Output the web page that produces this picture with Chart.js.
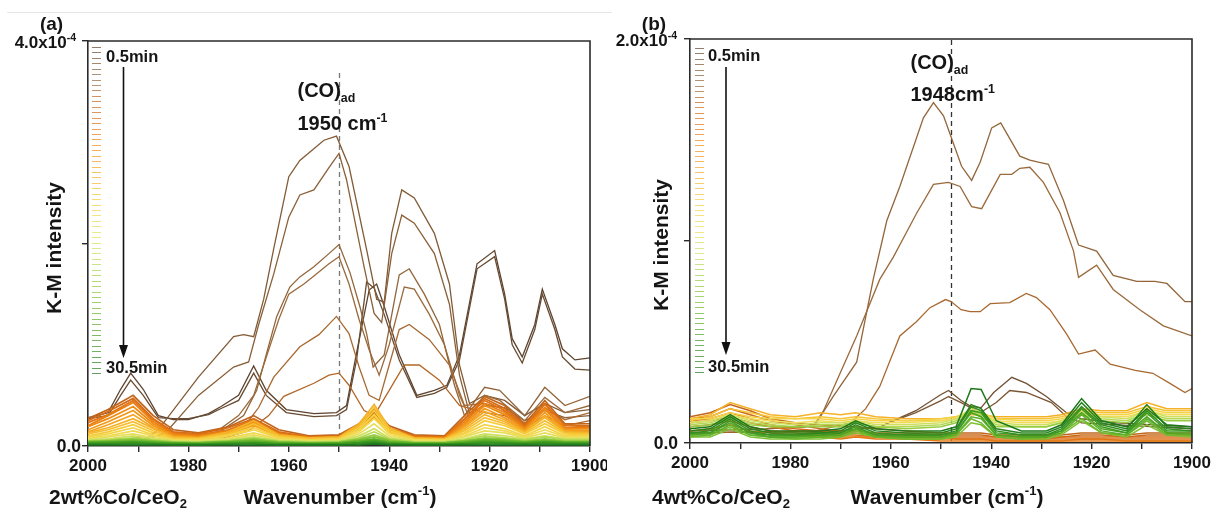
<!DOCTYPE html>
<html><head><meta charset="utf-8">
<script src="https://cdn.jsdelivr.net/npm/chart.js@4.4.1/dist/chart.umd.min.js"></script>
<style>
html,body{margin:0;padding:0;background:#fff;}
body{width:1214px;height:513px;position:relative;overflow:hidden;}
canvas{position:absolute;top:0;}
#ca{left:0;} #cb{left:607px;}
</style></head><body>
<canvas id="ca" width="607" height="513"></canvas>
<canvas id="cb" width="607" height="513"></canvas>
<script>
// ---------- DATA (K-M intensity in units of 1e-4) ----------
const X_TICKS = [2000, 1980, 1960, 1940, 1920, 1900];
const TIME_LABELS = ['0.5min', '30.5min'];
const N_SPECTRA = 61;

// Panel (a) 2wt%Co/CeO2 - large (brown) spectra as [wavenumber, value]
const A_D1 = [[2000,0.28],[1996,0.33],[1993.5,0.56],[1991.5,0.72],[1989,0.56],[1986,0.3],[1983,0.26],[1980,0.26],[1976,0.32],[1973.5,0.39],[1970,0.5],[1967,0.79],[1964.5,0.55],[1960.5,0.36],[1955,0.32],[1950.5,0.33],[1948.5,0.4],[1946.5,0.92],[1944,1.54],[1942.5,1.6],[1941,1.38],[1938,0.9],[1934.5,0.5],[1931,0.55],[1928.5,0.6],[1926,0.9],[1922.5,1.8],[1919,1.93],[1917,1.5],[1915.5,1.06],[1913.5,0.88],[1911,1.2],[1909.5,1.55],[1907,1.2],[1905.5,0.96],[1903,0.85],[1900,0.87]];
const A_D2 = [[2000,0.27],[1996,0.3],[1993.5,0.5],[1991.5,0.65],[1989,0.5],[1986,0.28],[1983,0.27],[1980,0.27],[1976,0.31],[1973.5,0.37],[1970,0.45],[1967,0.72],[1964.5,0.5],[1960.5,0.33],[1955,0.29],[1950.5,0.3],[1948.5,0.36],[1946.5,0.85],[1944.5,1.62],[1943,1.56],[1941,1.3],[1938,0.85],[1934.5,0.48],[1931,0.52],[1928.5,0.58],[1926,0.85],[1922.5,1.75],[1919,1.87],[1917,1.45],[1915.5,1.0],[1913.5,0.82],[1911,1.15],[1909.5,1.5],[1907,1.15],[1905.5,0.88],[1903,0.76],[1900,0.75]];
const A_P1 = [[2000,0.06],[1992,0.07],[1988,0.09],[1986,0.16],[1978,0.68],[1971,1.08],[1969,1.1],[1967,1.08],[1965,1.45],[1963,1.95],[1960,2.66],[1957.8,2.82],[1953,3.02],[1950.5,3.06],[1948,2.76],[1944.5,1.94],[1942.5,1.45],[1941,1.42],[1939.5,2.1],[1937.5,2.53],[1935,2.45],[1931,2.1],[1928,1.6],[1926,0.8],[1924,0.42],[1921,0.5],[1917,0.45],[1913,0.3],[1909,0.42],[1905,0.33],[1900,0.36]];
const A_P2 = [[2000,0.05],[1990,0.06],[1986,0.1],[1984,0.16],[1978,0.5],[1971,0.78],[1968,0.83],[1966,1.2],[1963,1.7],[1960,2.26],[1957.8,2.48],[1955,2.53],[1952,2.75],[1950,2.89],[1948.5,2.63],[1945,1.77],[1943,1.31],[1941.5,1.22],[1939.5,1.9],[1937.5,2.28],[1935,2.2],[1931,1.9],[1928,1.4],[1926,0.7],[1924,0.32],[1921,0.4],[1917,0.38],[1913,0.25],[1909,0.35],[1905,0.28],[1900,0.3]];
const A_P3 = [[2000,0.04],[1985,0.05],[1975,0.1],[1969,0.3],[1966.4,0.55],[1964.4,0.92],[1962.4,1.28],[1959.8,1.57],[1957.8,1.67],[1955,1.77],[1952,1.9],[1950,1.99],[1947.8,1.71],[1945.8,1.37],[1944.5,1.11],[1943.2,0.78],[1941,0.9],[1938,1.69],[1936,1.75],[1933,1.5],[1930,1.2],[1927,0.6],[1925,0.3],[1921,0.58],[1918,0.55],[1913,0.3],[1909,0.58],[1905,0.4],[1900,0.49]];
const A_P4 = [[2000,0.04],[1985,0.05],[1975,0.12],[1970,0.3],[1967,0.5],[1964,0.95],[1962,1.25],[1960,1.5],[1957,1.6],[1955,1.68],[1952,1.8],[1950,1.87],[1948,1.6],[1946,1.25],[1944,0.95],[1942,0.7],[1940,1.0],[1937,1.57],[1935,1.55],[1932,1.3],[1929,1.0],[1926,0.5],[1924,0.28],[1921,0.5],[1918,0.45],[1913,0.25],[1909,0.48],[1905,0.33],[1900,0.4]];
const A_P5 = [[2000,0.04],[1980,0.05],[1972,0.1],[1968,0.25],[1966,0.38],[1963,0.68],[1957.8,0.98],[1954,1.1],[1950.5,1.28],[1948,1.11],[1946,0.78],[1944,0.5],[1942,0.45],[1940,0.8],[1938,1.15],[1936,1.2],[1932,1.05],[1928,0.8],[1925,0.4],[1921,0.42],[1918,0.38],[1913,0.2],[1909,0.38],[1905,0.26],[1900,0.33]];
const A_P6 = [[2000,0.04],[1975,0.05],[1968,0.15],[1964,0.3],[1961,0.49],[1955,0.62],[1952,0.7],[1950,0.72],[1948,0.6],[1945,0.35],[1943,0.3],[1940,0.55],[1937,0.8],[1934,0.8],[1930,0.65],[1926,0.4],[1921,0.33],[1917,0.3],[1913,0.18],[1909,0.3],[1905,0.2],[1900,0.25]];

// Panel (a) small spectra on a shared wavenumber list
const A_LOW_X = [2000,1996,1991,1987,1983,1978,1972,1967,1962,1956,1950,1946,1943,1940,1935,1929,1925,1921,1917,1913,1909,1905,1900];
const A_O1 = [0.27,0.36,0.50,0.30,0.16,0.13,0.19,0.30,0.16,0.10,0.11,0.22,0.36,0.20,0.11,0.10,0.30,0.49,0.40,0.22,0.45,0.22,0.22];
const A_O2 = [0.25,0.34,0.47,0.27,0.14,0.12,0.18,0.27,0.14,0.09,0.10,0.21,0.33,0.18,0.10,0.09,0.27,0.47,0.37,0.21,0.42,0.21,0.20];
const A_O3 = [0.23,0.31,0.45,0.26,0.13,0.11,0.16,0.26,0.13,0.09,0.09,0.19,0.32,0.17,0.09,0.09,0.26,0.45,0.35,0.19,0.41,0.20,0.19];
const A_O4 = [0.20,0.30,0.43,0.24,0.12,0.10,0.15,0.24,0.12,0.08,0.09,0.18,0.30,0.16,0.09,0.08,0.24,0.42,0.33,0.18,0.38,0.18,0.18];
const A_O5 = [0.19,0.27,0.39,0.22,0.11,0.09,0.14,0.23,0.11,0.08,0.08,0.17,0.29,0.15,0.08,0.08,0.22,0.40,0.31,0.17,0.36,0.17,0.17];
const A_O6 = [0.16,0.24,0.35,0.20,0.10,0.09,0.13,0.21,0.10,0.07,0.08,0.16,0.28,0.14,0.08,0.07,0.20,0.37,0.28,0.16,0.33,0.16,0.15];
const A_O7 = [0.14,0.21,0.31,0.18,0.09,0.08,0.12,0.20,0.10,0.07,0.07,0.17,0.30,0.13,0.07,0.07,0.19,0.34,0.26,0.15,0.30,0.15,0.14];
const A_Y1 = [0.13,0.18,0.27,0.17,0.09,0.08,0.14,0.25,0.11,0.08,0.09,0.22,0.41,0.18,0.08,0.07,0.17,0.31,0.24,0.14,0.28,0.14,0.13];
const A_Y2 = [0.12,0.16,0.24,0.15,0.08,0.07,0.12,0.22,0.10,0.07,0.08,0.20,0.38,0.17,0.07,0.07,0.15,0.28,0.22,0.13,0.25,0.13,0.12];
const A_Y3 = [0.10,0.14,0.21,0.13,0.07,0.07,0.11,0.18,0.09,0.06,0.07,0.18,0.35,0.15,0.07,0.06,0.13,0.25,0.20,0.12,0.22,0.12,0.11];
const A_Y4 = [0.09,0.12,0.18,0.11,0.06,0.06,0.10,0.16,0.08,0.06,0.07,0.16,0.31,0.13,0.06,0.06,0.12,0.21,0.17,0.10,0.19,0.10,0.10];
const A_Y5 = [0.08,0.10,0.15,0.10,0.06,0.05,0.08,0.13,0.07,0.05,0.06,0.14,0.27,0.12,0.06,0.05,0.10,0.18,0.15,0.09,0.16,0.09,0.09];
const A_Y6 = [0.07,0.09,0.12,0.08,0.05,0.05,0.07,0.11,0.06,0.05,0.05,0.12,0.22,0.10,0.05,0.05,0.09,0.15,0.13,0.08,0.13,0.08,0.08];
const A_YG1 = [0.06,0.07,0.10,0.07,0.05,0.04,0.06,0.09,0.05,0.04,0.05,0.10,0.17,0.08,0.04,0.04,0.07,0.12,0.10,0.07,0.10,0.07,0.07];
const A_YG2 = [0.05,0.06,0.08,0.06,0.04,0.04,0.05,0.08,0.05,0.04,0.04,0.08,0.14,0.07,0.04,0.04,0.06,0.10,0.08,0.06,0.09,0.06,0.06];
const A_YG3 = [0.05,0.05,0.07,0.05,0.04,0.03,0.05,0.07,0.04,0.03,0.04,0.07,0.11,0.06,0.03,0.03,0.05,0.08,0.07,0.05,0.07,0.05,0.05];
const A_YG4 = [0.04,0.05,0.06,0.05,0.03,0.03,0.04,0.06,0.04,0.03,0.03,0.06,0.09,0.05,0.03,0.03,0.05,0.07,0.06,0.04,0.06,0.04,0.04];
const A_G1 = [0.04,0.04,0.05,0.04,0.03,0.03,0.04,0.05,0.03,0.03,0.03,0.05,0.07,0.04,0.03,0.03,0.04,0.06,0.05,0.04,0.05,0.04,0.04];
const A_G2 = [0.03,0.04,0.04,0.03,0.03,0.02,0.03,0.04,0.03,0.02,0.03,0.04,0.06,0.03,0.02,0.02,0.03,0.05,0.04,0.03,0.04,0.03,0.03];
const A_G3 = [0.03,0.03,0.04,0.03,0.02,0.02,0.03,0.03,0.02,0.02,0.02,0.03,0.05,0.03,0.02,0.02,0.03,0.04,0.03,0.03,0.04,0.03,0.03];
const A_G4 = [0.02,0.02,0.03,0.02,0.02,0.02,0.02,0.03,0.02,0.02,0.02,0.03,0.04,0.02,0.02,0.02,0.02,0.03,0.03,0.02,0.03,0.02,0.02];
const A_G5 = [0.02,0.02,0.02,0.02,0.01,0.01,0.02,0.02,0.01,0.01,0.01,0.02,0.03,0.02,0.01,0.01,0.02,0.02,0.02,0.02,0.02,0.02,0.02];
const A_G6 = [0.01,0.01,0.01,0.01,0.01,0.01,0.01,0.01,0.01,0.01,0.01,0.01,0.02,0.01,0.01,0.01,0.01,0.01,0.01,0.01,0.01,0.01,0.01];

// Panel (b) 4wt%Co/CeO2 - large (brown) spectra
const B_B1 = [[2000,0.06],[1985,0.07],[1977,0.08],[1974.8,0.1],[1971.5,0.23],[1966.8,0.40],[1963.5,0.81],[1960.8,1.10],[1958.2,1.27],[1953.5,1.61],[1951.5,1.685],[1949.5,1.62],[1948.2,1.53],[1945.9,1.37],[1943.9,1.30],[1942.2,1.39],[1939.9,1.56],[1938.1,1.585],[1934.3,1.42],[1932.3,1.40],[1930.6,1.39],[1928.6,1.38],[1925.6,1.2],[1922.6,0.98],[1919,0.95],[1915.7,0.83],[1911,0.80],[1907.4,0.80],[1905,0.79],[1901.4,0.70],[1900,0.70]];
const B_B2 = [[2000,0.06],[1985,0.07],[1977,0.08],[1975,0.1],[1973.4,0.16],[1970.1,0.345],[1966.8,0.53],[1962.2,0.81],[1959.5,0.92],[1954.8,1.14],[1951.5,1.28],[1948.5,1.29],[1946.2,1.27],[1943.9,1.17],[1941.9,1.16],[1938.2,1.33],[1935.9,1.33],[1934.3,1.36],[1932.3,1.365],[1929.6,1.29],[1926.3,1.14],[1923.6,0.95],[1922.6,0.82],[1919,0.88],[1915.7,0.76],[1910.4,0.66],[1905.7,0.58],[1900,0.53]];
const B_B3 = [[2000,0.05],[1975,0.06],[1968,0.1],[1965,0.17],[1962.2,0.28],[1958.2,0.53],[1954.9,0.60],[1952.2,0.67],[1949.1,0.71],[1948,0.70],[1946,0.66],[1944.2,0.65],[1942.2,0.65],[1940.2,0.69],[1936.3,0.695],[1933,0.74],[1931,0.72],[1928.3,0.66],[1925,0.54],[1922.6,0.44],[1919.3,0.46],[1916.3,0.39],[1911.3,0.36],[1907.8,0.345],[1904.4,0.295],[1901.4,0.25],[1900,0.27]];
const B_B4 = [[2000,0.05],[1970,0.06],[1962,0.08],[1960.5,0.1],[1955,0.16],[1950,0.24],[1948.5,0.26],[1946,0.21],[1944,0.18],[1942,0.175],[1939.5,0.25],[1935.9,0.325],[1933,0.295],[1929,0.23],[1925,0.15],[1922,0.12],[1915,0.1],[1900,0.08]];
const B_B5 = [[2000,0.05],[1970,0.06],[1962,0.08],[1960.5,0.1],[1955,0.15],[1950,0.21],[1948.5,0.23],[1946,0.2],[1942.2,0.15],[1939,0.2],[1936.3,0.26],[1933,0.25],[1928,0.2],[1925,0.13],[1922,0.1],[1900,0.07]];

// Panel (b) small spectra on a shared wavenumber list
const B_LOW_X = [2000,1996,1992,1988,1984,1979,1974,1970,1967,1963,1957,1950,1947,1944,1942,1939,1934,1929,1926,1922,1918,1913,1909,1905,1900];
const B_O1 = [0.13,0.15,0.19,0.16,0.12,0.10,0.09,0.08,0.08,0.07,0.06,0.05,0.05,0.05,0.05,0.04,0.04,0.04,0.04,0.05,0.05,0.04,0.05,0.05,0.05];
const B_O2 = [0.12,0.13,0.17,0.14,0.11,0.09,0.07,0.06,0.06,0.05,0.05,0.04,0.04,0.04,0.04,0.03,0.03,0.03,0.03,0.04,0.04,0.03,0.04,0.04,0.04];
const B_O3 = [0.11,0.12,0.15,0.12,0.09,0.07,0.06,0.05,0.05,0.04,0.04,0.03,0.03,0.03,0.03,0.03,0.02,0.02,0.03,0.03,0.03,0.03,0.03,0.03,0.03];
const B_O4 = [0.10,0.11,0.13,0.10,0.08,0.06,0.05,0.04,0.04,0.03,0.03,0.03,0.02,0.02,0.02,0.02,0.02,0.02,0.02,0.02,0.02,0.02,0.02,0.02,0.02];
const B_O5 = [0.08,0.09,0.11,0.08,0.06,0.05,0.04,0.03,0.03,0.03,0.02,0.02,0.02,0.02,0.02,0.01,0.01,0.01,0.01,0.02,0.02,0.01,0.01,0.01,0.01];
const B_O6 = [0.06,0.07,0.09,0.06,0.05,0.04,0.03,0.02,0.03,0.02,0.02,0.01,0.01,0.01,0.01,0.01,0.01,0.01,0.01,0.01,0.01,0.01,0.01,0.01,0.01];
const B_Y1 = [0.12,0.14,0.20,0.17,0.14,0.13,0.15,0.14,0.15,0.13,0.12,0.12,0.13,0.14,0.14,0.13,0.13,0.13,0.14,0.17,0.16,0.16,0.20,0.17,0.17];
const B_Y2 = [0.11,0.13,0.17,0.15,0.13,0.12,0.13,0.12,0.13,0.12,0.11,0.11,0.12,0.15,0.15,0.12,0.12,0.12,0.13,0.16,0.15,0.15,0.18,0.16,0.16];
const B_Y3 = [0.12,0.12,0.15,0.13,0.12,0.12,0.12,0.11,0.12,0.11,0.11,0.12,0.13,0.16,0.15,0.12,0.11,0.11,0.12,0.15,0.14,0.14,0.17,0.15,0.15];
const B_Y4 = [0.10,0.11,0.14,0.12,0.11,0.10,0.11,0.10,0.11,0.10,0.10,0.11,0.12,0.16,0.14,0.11,0.10,0.10,0.11,0.14,0.13,0.13,0.16,0.14,0.14];
const B_YG1 = [0.10,0.11,0.14,0.11,0.10,0.09,0.10,0.10,0.11,0.09,0.09,0.10,0.12,0.17,0.15,0.10,0.09,0.09,0.11,0.16,0.13,0.12,0.16,0.13,0.13];
const B_YG2 = [0.09,0.10,0.13,0.10,0.09,0.08,0.09,0.09,0.10,0.08,0.08,0.09,0.11,0.16,0.14,0.09,0.08,0.08,0.10,0.15,0.12,0.11,0.15,0.12,0.12];
const B_YG3 = [0.08,0.09,0.12,0.09,0.08,0.08,0.08,0.08,0.10,0.08,0.07,0.08,0.10,0.15,0.13,0.08,0.08,0.08,0.10,0.14,0.11,0.10,0.14,0.11,0.11];
const B_G1 = [0.07,0.08,0.14,0.08,0.06,0.06,0.06,0.07,0.11,0.07,0.06,0.06,0.08,0.27,0.265,0.11,0.06,0.06,0.09,0.22,0.11,0.08,0.17,0.09,0.08];
const B_G2 = [0.06,0.07,0.13,0.07,0.05,0.05,0.05,0.06,0.10,0.06,0.05,0.05,0.07,0.19,0.17,0.07,0.05,0.05,0.08,0.20,0.10,0.07,0.19,0.08,0.07];
const B_G3 = [0.05,0.06,0.12,0.06,0.04,0.04,0.05,0.05,0.09,0.05,0.04,0.04,0.06,0.18,0.16,0.06,0.04,0.04,0.07,0.18,0.09,0.06,0.16,0.07,0.06];
const B_G4 = [0.05,0.05,0.11,0.05,0.04,0.04,0.04,0.05,0.08,0.04,0.04,0.04,0.05,0.16,0.15,0.05,0.04,0.04,0.06,0.17,0.08,0.05,0.15,0.06,0.06];
const B_G5 = [0.04,0.05,0.10,0.05,0.03,0.03,0.04,0.04,0.07,0.04,0.03,0.03,0.05,0.15,0.13,0.04,0.03,0.03,0.06,0.15,0.07,0.05,0.13,0.05,0.05];
const B_G6 = [0.04,0.04,0.09,0.04,0.03,0.03,0.03,0.04,0.07,0.03,0.03,0.03,0.04,0.13,0.12,0.04,0.03,0.03,0.05,0.14,0.06,0.04,0.12,0.05,0.04];
const B_G7 = [0.03,0.04,0.08,0.04,0.03,0.02,0.03,0.03,0.06,0.03,0.02,0.02,0.04,0.12,0.10,0.03,0.02,0.03,0.05,0.12,0.05,0.04,0.11,0.04,0.04];
const B_G8 = [0.03,0.03,0.07,0.03,0.02,0.02,0.02,0.03,0.05,0.03,0.02,0.02,0.03,0.10,0.09,0.03,0.02,0.02,0.04,0.11,0.05,0.03,0.09,0.04,0.03];

// ---------- STYLE ----------
const FF = '"Liberation Sans", Arial, Helvetica, sans-serif';
const COLOR_STOPS = [[0,'#5e4430'],[3,'#7a5634'],[7,'#9a6a3c'],[10,'#c0661c'],[13,'#dc6e14'],[18,'#f08a12'],[23,'#f5aa22'],[28,'#f6cc3a'],[33,'#f0de58'],[38,'#c8e060'],[43,'#96cc40'],[48,'#6cb82c'],[54,'#3e9a22'],[60,'#1c781a']];
function hex2rgb(h){return [parseInt(h.substr(1,2),16),parseInt(h.substr(3,2),16),parseInt(h.substr(5,2),16)];}
function spectrumColor(i){
  for(let k=0;k<COLOR_STOPS.length-1;k++){
    const [i0,c0]=COLOR_STOPS[k],[i1,c1]=COLOR_STOPS[k+1];
    if(i>=i0&&i<=i1){const t=(i-i0)/(i1-i0),a=hex2rgb(c0),b=hex2rgb(c1);
      return 'rgb('+a.map((v,j)=>Math.round(v+(b[j]-v)*t)).join(',')+')';}
  }
  return COLOR_STOPS[COLOR_STOPS.length-1][1];
}
function fromPairs(p){return p.map(([x,y])=>({x,y}));}
function fromGrid(xs,ys){return xs.map((x,i)=>({x,y:ys[i]}));}
function ds(data,ci,w){return {data,borderColor:spectrumColor(ci),borderWidth:w,pointRadius:0,order:-ci,fill:false};}

const dsA = [
  ds(fromPairs(A_D1),0,1.3), ds(fromPairs(A_D2),1,1.3), ds(fromPairs(A_P1),4,1.3), ds(fromPairs(A_P2),5,1.3),
  ds(fromPairs(A_P3),6,1.3), ds(fromPairs(A_P4),7,1.3), ds(fromPairs(A_P5),8,1.3), ds(fromPairs(A_P6),9,1.3)
];
[[A_O1,10],[A_O2,12],[A_O3,14],[A_O4,16],[A_O5,18],[A_O6,20],[A_O7,22],[A_Y1,24],[A_Y2,26],[A_Y3,28],[A_Y4,30],[A_Y5,32],[A_Y6,34],
 [A_YG1,37],[A_YG2,40],[A_YG3,43],[A_YG4,46],[A_G1,49],[A_G2,51],[A_G3,53],[A_G4,55],[A_G5,57],[A_G6,60]]
 .forEach(([v,c])=>dsA.push(ds(fromGrid(A_LOW_X,v),c,1.7)));

const dsB = [
  ds(fromPairs(B_B1),6,1.3), ds(fromPairs(B_B2),7,1.3), ds(fromPairs(B_B3),8,1.3), ds(fromPairs(B_B4),2,1.3), ds(fromPairs(B_B5),3,1.3)
];
[[B_O1,10],[B_O2,11],[B_O3,12],[B_O4,13],[B_O5,14],[B_O6,15],[B_Y1,24],[B_Y2,27],[B_Y3,30],[B_Y4,33],[B_YG1,37],[B_YG2,40],[B_YG3,43],
 [B_G1,60],[B_G2,58],[B_G3,56],[B_G4,54],[B_G5,52],[B_G6,50],[B_G7,48],[B_G8,46]]
 .forEach(([v,c])=>dsB.push(ds(fromGrid(B_LOW_X,v),c,1.5)));

// ---------- TEXT HELPERS ----------
function rich(ctx,x,y,parts,size,align){
  const w = parts.map(([t,m])=>{ctx.font='bold '+(m?size*0.62:size)+'px '+FF;return ctx.measureText(t).width;});
  const tot = w.reduce((a,b)=>a+b,0);
  let cx = align==='right'? x-tot : align==='center'? x-tot/2 : x;
  ctx.textAlign='left'; ctx.textBaseline='alphabetic';
  parts.forEach(([t,m],i)=>{
    ctx.font='bold '+(m?size*0.62:size)+'px '+FF;
    const dy = m===1? -size*0.42 : m===-1? size*0.22 : 0;
    ctx.fillText(t,cx,y+size*0.36+dy);
    cx+=w[i];
  });
}

function deco(P){
  return {
    id:'deco',
    beforeDatasetsDraw(chart){
      const {ctx,chartArea:a,scales:{x}}=chart;
      const px=Math.round(x.getPixelForValue(P.mark))+0.5;
      ctx.save(); ctx.strokeStyle=P.dashColor; ctx.lineWidth=1.3; ctx.setLineDash([5,4]);
      ctx.beginPath(); ctx.moveTo(px,P.dashTop); ctx.lineTo(px,a.bottom); ctx.stroke(); ctx.restore();
    },
    afterDraw(chart){
      const {ctx,chartArea:a,scales:{y}}=chart;
      ctx.save();
      ctx.strokeStyle='#2a2a2a'; ctx.lineWidth=1.6;
      ctx.beginPath(); ctx.moveTo(a.left,a.top); ctx.lineTo(a.right,a.top); ctx.lineTo(a.right,a.bottom); ctx.stroke();
      for(let i=0;i<N_SPECTRA;i++){
        const yy=Math.round(P.legTop+i*(P.legBot-P.legTop)/(N_SPECTRA-1))+0.5;
        ctx.strokeStyle=spectrumColor(i); ctx.globalAlpha=0.7; ctx.lineWidth=1;
        ctx.beginPath(); ctx.moveTo(P.legX0,yy); ctx.lineTo(P.legX1,yy); ctx.stroke();
      }
      ctx.globalAlpha=1;
      ctx.strokeStyle='#111'; ctx.fillStyle='#111'; ctx.lineWidth=1.6;
      ctx.beginPath(); ctx.moveTo(P.arrX,P.arrTop); ctx.lineTo(P.arrX,P.arrTip-10); ctx.stroke();
      ctx.beginPath(); ctx.moveTo(P.arrX,P.arrTip); ctx.lineTo(P.arrX-4.5,P.arrTip-13); ctx.lineTo(P.arrX+4.5,P.arrTip-13); ctx.closePath(); ctx.fill();
      ctx.fillStyle='#151515';
      rich(ctx,P.minX,P.minTopY,[[TIME_LABELS[0],0]],16.5,'left');
      rich(ctx,P.minX,P.minBotY,[[TIME_LABELS[1],0]],16.5,'left');
      rich(ctx,P.yLabR0,y.getPixelForValue(0),[['0.0',0]],17.5,'right');
      rich(ctx,P.yLabR1,y.getPixelForValue(P.ymax)+1,[[P.ymaxTxt,0],['-4',1]],17,'right');
      rich(ctx,P.letterX,P.letterY,[[P.letter,0]],19,'center');
      ctx.save(); ctx.translate(P.yTitleX,P.yTitleY); ctx.rotate(-Math.PI/2);
      rich(ctx,0,0,[['K-M intensity',0]],21,'center'); ctx.restore();
      rich(ctx,P.xTitleX,496,[['Wavenumber (cm',0],['-1',1],[')',0]],21,'center');
      rich(ctx,P.sampleX,496,[[P.sample,0],['2',-1]],21,'left');
      rich(ctx,P.annX,P.annY1,[['(CO)',0],['ad',-1]],20,'left');
      rich(ctx,P.annX,P.annY2,[[P.annTxt,0],['-1',1]],20,'left');
      if(P.topRule){ctx.strokeStyle='#e6e6e6'; ctx.lineWidth=1; ctx.beginPath(); ctx.moveTo(P.topRule[0],12.5); ctx.lineTo(P.topRule[1],12.5); ctx.stroke();}
      ctx.restore();
    }
  };
}

function makeChart(id,datasets,P){
  return new Chart(document.getElementById(id).getContext('2d'),{
    type:'line',
    data:{datasets},
    options:{
      responsive:false, animation:false, events:[],
      layout:{padding:{left:0,right:P.padR,top:P.padT,bottom:0}},
      plugins:{legend:{display:false},tooltip:{enabled:false}},
      elements:{point:{radius:0},line:{tension:0}},
      scales:{
        x:{type:'linear',reverse:true,min:1900,max:2000,
          afterFit(s){s.height=P.xh;s.paddingLeft=0;s.paddingRight=0;},
          border:{display:true,color:'#2a2a2a',width:1.6},
          grid:{drawOnChartArea:false,drawTicks:true,tickLength:6,color:'#2a2a2a',lineWidth:1.4},
          ticks:{stepSize:10,autoSkip:false,maxRotation:0,padding:4,color:'#151515',
            font:{family:FF,size:17,weight:'bold'},
            callback:v=>X_TICKS.includes(v)?String(v):''}},
        y:{type:'linear',min:0,max:P.ymax,
          afterFit(s){s.width=P.yw;s.paddingTop=0;s.paddingBottom=0;},
          border:{display:true,color:'#2a2a2a',width:1.6},
          grid:{drawOnChartArea:false,drawTicks:true,tickLength:6,color:'#2a2a2a',lineWidth:1.4},
          ticks:{stepSize:P.ystep,callback:()=>'',font:{size:10}}}
      }
    },
    plugins:[deco(P)]
  });
}

makeChart('ca',dsA,{padR:17,padT:41,xh:67,yw:88,ymax:4,ystep:2,ymaxTxt:'4.0x10',
  mark:1950,dashColor:'#777',dashTop:73,
  legX0:92,legX1:101,legTop:47,legBot:373,arrX:123.5,arrTop:67,arrTip:358,minX:106,minTopY:56,minBotY:367,
  yLabR0:81,yLabR1:76,letter:'(a)',letterX:51.5,letterY:23,yTitleX:53,yTitleY:248,
  xTitleX:340,sampleX:49,sample:'2wt%Co/CeO',annX:297.5,annY1:90,annY2:123,annTxt:'1950 cm',topRule:[7,607]});

makeChart('cb',dsB,{padR:22,padT:39,xh:70,yw:83,ymax:2,ystep:1,ymaxTxt:'2.0x10',
  mark:1948,dashColor:'#333',dashTop:40,
  legX0:88,legX1:97,legTop:48,legBot:372,arrX:119,arrTop:67,arrTip:355,minX:101,minTopY:55,minBotY:366,
  yLabR0:71,yLabR1:70,letter:'(b)',letterX:47,letterY:23,yTitleX:53,yTitleY:245,
  xTitleX:340,sampleX:45,sample:'4wt%Co/CeO',annX:303.5,annY1:62,annY2:94,annTxt:'1948cm',topRule:[0,5]});
</script>
</body></html>
